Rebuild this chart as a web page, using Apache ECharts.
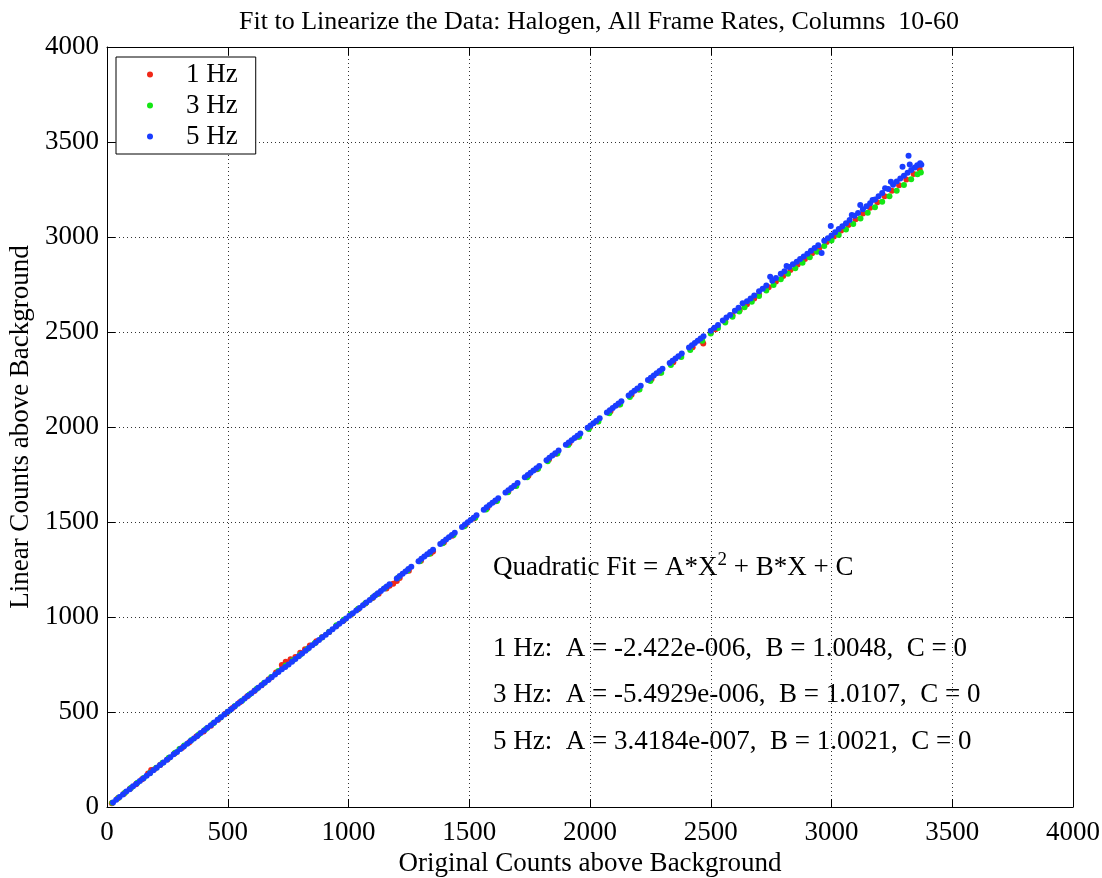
<!DOCTYPE html>
<html lang="en">
<head>
    <meta charset="UTF-8">
    <title>Fit to Linearize the Data</title>
    <style>
        html, body { margin: 0; padding: 0; background: #fff; }
        #chart { width: 1102px; height: 878px; }
    </style>
</head>
<body>
<div id="chart"></div>

<script src="https://cdn.jsdelivr.net/npm/echarts@6/dist/echarts.min.js"></script>
<script>
    // series names and colours
    var seriesNames = ['1 Hz', '3 Hz', '5 Hz'];
    var seriesColors = ['#f02818', '#14e614', '#1a3cff'];

    // [original counts, linear counts]
    var points1Hz = [
        [20,20],[45,46],[70,70],[95,96],[120,120],[145,146],[170,176],[183,195],[195,198],[220,221],
        [250,250],[280,281],[310,311],[340,340],[370,371],[400,398],[430,428],[460,459],[490,491],[520,521],
        [550,551],[580,581],[610,611],[640,641],[670,672],[700,708],[724,747],[740,765],[760,778],[780,790],
        [800,812],[820,830],[840,850],[867,873],[890,893],[920,921],[950,952],[980,982],[1010,1012],[1040,1041],
        [1070,1071],[1100,1100],[1125,1123],[1157,1150],[1170,1165],[1185,1175],[1200,1190],[1212,1205],[1250,1244],
        [1300,1296],[1340,1334],[1350,1345],[1395,1392],[1430,1428],[1485,1484],[1520,1519],[1575,1574],[1610,1609],
        [1662,1661],[1690,1689],[1745,1744],[1780,1778],[1830,1829],[1860,1859],[1915,1914],[1950,1949],[2000,2000],
        [2030,2029],[2085,2083],[2120,2118],[2172,2170],[2200,2197],[2255,2252],[2290,2286],[2345,2341],[2375,2371],
        [2425,2420],[2460,2454],[2469,2440],
        [2500,2496],[2520,2514],[2560,2556],[2590,2588],[2620,2616],[2650,2646],[2680,2676],[2700,2697],[2740,2735],
        [2770,2766],[2800,2795],[2830,2826],[2860,2855],[2890,2884],[2920,2915],[2950,2944],[2980,2974],[3010,3003],
        [3040,3034],[3070,3063],[3100,3094],[3130,3124],[3160,3154],[3190,3183],[3220,3214],[3250,3243],[3280,3273],
        [3310,3303],[3340,3332],[3365,3357]
    ];

    var points3Hz = [
        [22,23],[48,49],[74,75],[100,101],[126,127],[152,153],[178,179],[204,206],[230,233],[256,259],
        [282,286],[300,305],[320,324],[350,352],[380,382],[410,411],[440,441],[470,471],[500,501],[530,531],
        [560,561],[590,592],[620,622],[650,653],[680,684],[710,716],[740,745],[770,772],[800,801],[830,832],
        [860,862],[890,892],[920,923],[950,956],[980,985],[1010,1014],[1040,1043],[1070,1072],[1100,1102],
        [1118,1120],[1150,1151],[1205,1206],[1245,1245],[1295,1294],[1335,1333],[1390,1388],[1435,1432],[1480,1477],
        [1525,1522],[1570,1566],[1615,1611],[1660,1656],[1695,1690],[1740,1735],[1785,1780],[1825,1820],[1865,1860],
        [1910,1905],[1955,1949],[1995,1990],[2035,2029],[2080,2073],[2125,2118],[2165,2158],[2205,2197],[2250,2242],
        [2295,2286],[2335,2326],[2378,2368],[2415,2405],[2465,2454],
        [2500,2492],[2530,2521],[2560,2550],[2590,2580],[2618,2608],[2640,2630],[2670,2659],[2700,2689],[2730,2719],
        [2760,2748],[2790,2777],[2820,2806],[2850,2836],[2880,2865],[2910,2894],[2940,2923],[2970,2952],[3000,2982],
        [3030,3011],[3060,3040],[3090,3069],[3120,3098],[3150,3127],[3180,3156],[3210,3185],[3240,3214],[3270,3244],
        [3300,3274],[3330,3304],[3356,3330],[3370,3340]
    ];

    var points5Hz = [
        [25,24],[38,38],[52,53],[66,66],[80,81],[94,94],[108,109],[122,122],[136,137],[150,150],
        [164,165],[178,178],[192,193],[206,206],[220,221],[234,234],[248,249],[262,262],[276,277],[290,290],
        [304,305],[318,318],[332,333],[346,347],[360,361],[374,374],[388,389],[402,403],[416,417],[430,430],
        [444,445],[458,459],[472,473],[486,487],[500,501],[514,515],[528,529],[542,543],[556,557],[570,571],
        [584,585],[598,599],[612,613],[626,627],[640,641],[654,655],[668,669],[682,683],[696,697],[710,711],
        [724,725],[738,737],[752,750],[766,764],[780,779],[794,793],[808,808],[822,823],[836,837],[850,851],
        [864,865],[878,879],[892,893],[906,907],[920,921],[934,936],[948,950],[962,964],[976,978],[990,992],
        [1004,1006],[1018,1020],[1032,1034],[1046,1048],[1060,1062],[1074,1076],[1088,1090],[1102,1104],
        [1110,1113],[1122,1125],[1134,1137],[1146,1149],[1158,1161],[1170,1173],
        [1200,1203],[1212,1216],[1224,1228],[1236,1240],[1248,1252],[1260,1264],
        [1290,1294],[1302,1306],[1314,1318],[1326,1330],[1338,1342],[1350,1354],
        [1380,1384],[1392,1396],[1404,1408],[1416,1420],[1428,1432],[1440,1444],
        [1470,1474],[1482,1487],[1494,1499],[1506,1511],[1518,1523],[1530,1535],
        [1560,1565],[1572,1577],[1584,1589],[1596,1601],[1608,1613],[1620,1625],
        [1650,1655],[1662,1667],[1674,1679],[1686,1691],[1700,1705],
        [1730,1735],[1742,1747],[1754,1759],[1766,1771],[1778,1783],[1790,1795],
        [1820,1825],[1832,1838],[1844,1850],[1856,1862],[1870,1876],
        [1900,1906],[1912,1918],[1924,1930],[1936,1942],[1948,1954],[1960,1966],
        [1990,1996],[2002,2008],[2014,2020],[2026,2032],[2040,2046],
        [2070,2076],[2082,2088],[2094,2100],[2106,2112],[2118,2124],[2130,2136],
        [2160,2166],[2172,2179],[2184,2191],[2196,2203],[2210,2217],
        [2240,2247],[2252,2259],[2264,2271],[2276,2283],[2288,2295],[2300,2307],
        [2330,2337],[2342,2349],[2354,2361],[2366,2373],[2380,2387],
        [2410,2418],[2422,2430],[2434,2442],[2446,2454],[2458,2466],[2470,2478],
        [2500,2506],[2515,2522],[2530,2537],[2550,2560],[2565,2576],[2580,2590],[2600,2612],[2615,2628],[2632,2651],
        [2650,2662],[2665,2676],[2680,2692],[2700,2715],[2715,2728],[2730,2745],[2746,2791],[2755,2770],[2770,2784],
        [2790,2806],[2805,2820],[2814,2847],[2825,2842],[2840,2856],[2856,2870],[2870,2884],[2885,2898],[2900,2912],
        [2915,2928],[2930,2942],[2945,2956],[2959,2916],[2970,2980],[2985,2993],[2997,3058],[3000,3008],[3015,3025],
        [3030,3042],[3045,3056],[3060,3072],[3075,3090],[3084,3116],[3095,3112],[3110,3126],[3119,3168],[3130,3146],
        [3145,3162],[3160,3178],[3170,3195],[3180,3198],[3195,3215],[3210,3232],[3222,3256],[3235,3252],[3246,3291],
        [3255,3275],[3270,3292],[3285,3308],[3294,3370],[3300,3322],[3315,3338],[3319,3428],[3324,3382],[3330,3352],
        [3345,3366],[3355,3378],[3367,3388],[3372,3380]
    ];

    var fitLines = [
        '1 Hz:  A = -2.422e-006,  B = 1.0048,  C = 0',
        '3 Hz:  A = -5.4929e-006,  B = 1.0107,  C = 0',
        '5 Hz:  A = 3.4184e-007,  B = 1.0021,  C = 0'
    ];

    var serif = '"Liberation Serif", "Times New Roman", serif';
    var myChart = echarts.init(document.getElementById('chart'));

    var gridLine = { show: true, lineStyle: { color: '#333', type: [1, 3], width: 1 } };
    var boxLine = { show: true, onZero: false, lineStyle: { color: '#000', width: 1 } };
    var tick = { show: true, inside: true, length: 8, lineStyle: { color: '#000' } };
    var plainNumber = function (v) { return String(v); };

    function scatter(idx, data) {
        return {
            name: seriesNames[idx],
            type: 'scatter',
            data: data,
            symbol: 'circle',
            symbolSize: 6,
            itemStyle: { color: seriesColors[idx], opacity: 1 },
            xAxisIndex: 0,
            yAxisIndex: 0
        };
    }

    var textRows = [
        { type: 'text', left: 493, top: 551, style: {
            text: 'Quadratic Fit = A*X{sup|2} + B*X + C',
            font: '27px ' + serif, fill: '#000',
            rich: { sup: { fontSize: 19, fontFamily: serif, padding: [0, 0, 14, 0] } }
        } }
    ];
    var rowTops = [635, 681, 728];
    for (var i = 0; i < fitLines.length; i++) {
        textRows.push({ type: 'text', left: 493, top: rowTops[i], style: {
            text: fitLines[i], font: '27px ' + serif, fill: '#000'
        } });
    }

    var option = {
        animation: false,
        backgroundColor: '#fff',
        textStyle: { fontFamily: serif },
        title: {
            text: 'Fit to Linearize the Data: Halogen, All Frame Rates, Columns  10-60',
            left: 594, textAlign: 'center', top: 4,
            textStyle: { fontFamily: serif, fontSize: 26, fontWeight: 'normal', color: '#000' }
        },
        legend: {
            orient: 'vertical',
            left: 116, top: 57,
            padding: [4, 18, 4, 31],
            itemWidth: 6, itemHeight: 6, itemGap: 4,
            borderColor: '#000', borderWidth: 1,
            backgroundColor: '#fff',
            textStyle: { fontFamily: serif, fontSize: 27, lineHeight: 27, color: '#000', padding: [0, 0, 0, 28] },
            data: seriesNames
        },
        grid: { left: 107, right: 29, top: 47, bottom: 71, containLabel: false, outerBoundsMode: 'none' },
        xAxis: [{
            type: 'value', min: 0, max: 4000, interval: 500,
            name: 'Original Counts above Background',
            nameLocation: 'middle', nameGap: 36,
            nameTextStyle: { fontFamily: serif, fontSize: 27, color: '#000' },
            axisLine: boxLine, axisTick: tick, splitLine: gridLine,
            axisLabel: { fontFamily: serif, fontSize: 27, color: '#000', margin: 12, formatter: plainNumber }
        }, {
            type: 'value', min: 0, max: 4000, interval: 500, position: 'top',
            axisLine: boxLine, axisTick: tick, splitLine: { show: false },
            axisLabel: { show: false }
        }],
        yAxis: [{
            type: 'value', min: 0, max: 4000, interval: 500,
            name: 'Linear Counts above Background',
            nameLocation: 'middle', nameGap: 53,
            nameTextStyle: { fontFamily: serif, fontSize: 27, color: '#000' },
            axisLine: boxLine, axisTick: tick, splitLine: gridLine,
            axisLabel: { fontFamily: serif, fontSize: 27, color: '#000', margin: 8, formatter: plainNumber }
        }, {
            type: 'value', min: 0, max: 4000, interval: 500, position: 'right',
            axisLine: boxLine, axisTick: tick, splitLine: { show: false },
            axisLabel: { show: false }
        }],
        series: [
            scatter(0, points1Hz),
            scatter(1, points3Hz),
            scatter(2, points5Hz)
        ],
        graphic: textRows
    };

    myChart.setOption(option);
</script>
</body>
</html>
